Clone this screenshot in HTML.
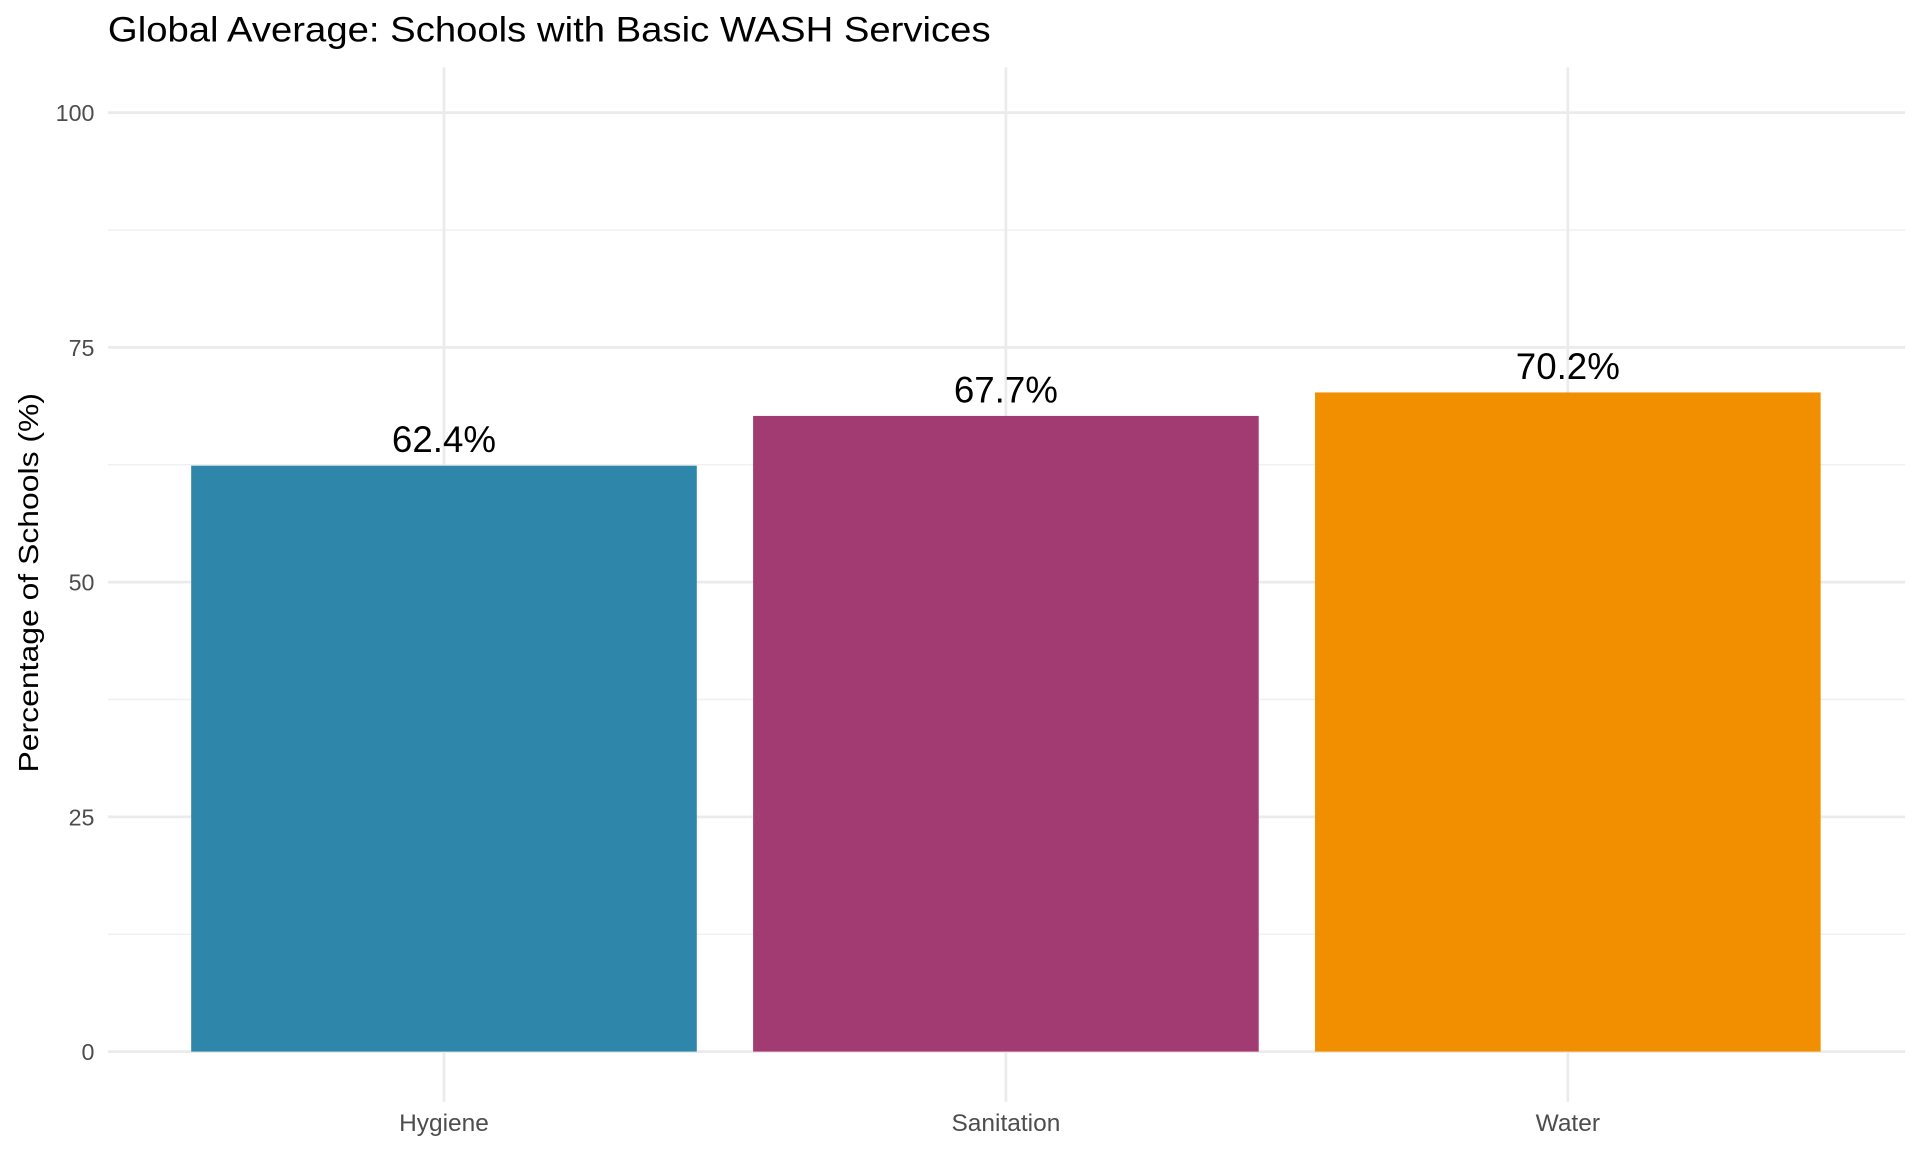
<!DOCTYPE html>
<html><head><meta charset="utf-8"><style>
html,body{margin:0;padding:0;background:#fff;}
svg{display:block;font-family:"Liberation Sans",Arial,sans-serif;}
</style></head><body>
<svg id="chart" width="1920" height="1152" viewBox="0 0 1568 941" xmlns="http://www.w3.org/2000/svg">
<text x="88" y="34" font-size="29" textLength="721" lengthAdjust="spacingAndGlyphs" fill="#000">Global Average: Schools with Basic WASH Services</text>
<text transform="translate(31,476) rotate(-90)" text-anchor="middle" font-size="23" textLength="310" lengthAdjust="spacingAndGlyphs" fill="#000">Percentage of Schools (%)</text>
<g id="grid"></g><g id="bars"></g><g id="labels"></g>
</svg>
<script>
const categories = ["Hygiene", "Sanitation", "Water"];
const values = [62.4, 67.7, 70.2];
const valueLabels = ["62.4%", "67.7%", "70.2%"];
const colors = ["#2E86AB", "#A23B72", "#F18F01"];
const yTicks = [0, 25, 50, 75, 100];
const yMinor = [12.5, 37.5, 62.5, 87.5];

const NS = "http://www.w3.org/2000/svg";
const panel = {left: 88, right: 1556, top: 55, bottom: 900};
const y = v => 859 - v * (859 - 92) / 100;
function xCenter(i){ const step = (1280.5 - 362.5) / 2; return 362.5 + i * step; }
const barW = 413;
function mk(tag, attrs, parent){ const e=document.createElementNS(NS,tag); for(const k in attrs) e.setAttribute(k, attrs[k]); parent.appendChild(e); return e; }
const grid = document.getElementById('grid'), bars = document.getElementById('bars'), labels = document.getElementById('labels');
yMinor.forEach(v => {
  const l = mk('line', {x1: panel.left, x2: panel.right, y1: y(v), y2: y(v), stroke: '#f0f0f0', 'stroke-width': 1.2}, grid);
  
  
});
yTicks.forEach(v => {
  const l = mk('line', {x1: panel.left, x2: panel.right, y1: y(v), y2: y(v), stroke: '#ebebeb', 'stroke-width': 2.2}, grid);
  
  
  const t = mk('text', {x: 77, y: y(v) + 7, 'text-anchor': 'end', 'font-size': 19, fill: '#4d4d4d'}, labels);
  t.textContent = v;
  
  
});
categories.forEach((c, i) => {
  const cx = xCenter(i);
  const g = mk('line', {x1: cx, x2: cx, y1: panel.top, y2: panel.bottom, stroke: '#ebebeb', 'stroke-width': 2.2}, grid);
  
  
  const r = mk('rect', {x: cx - barW / 2, y: y(values[i]), width: barW, height: y(0) - y(values[i]), fill: colors[i]}, bars);
  
  
  const vl = mk('text', {x: cx, y: y(values[i]) - 11, 'text-anchor': 'middle', 'font-size': 30, fill: '#000'}, labels);
  vl.textContent = valueLabels[i];
  
  
  const xl = mk('text', {x: cx, y: 924, 'text-anchor': 'middle', 'font-size': 20, fill: '#4d4d4d'}, labels);
  xl.textContent = c;
  
  
});
</script>
</body></html>
